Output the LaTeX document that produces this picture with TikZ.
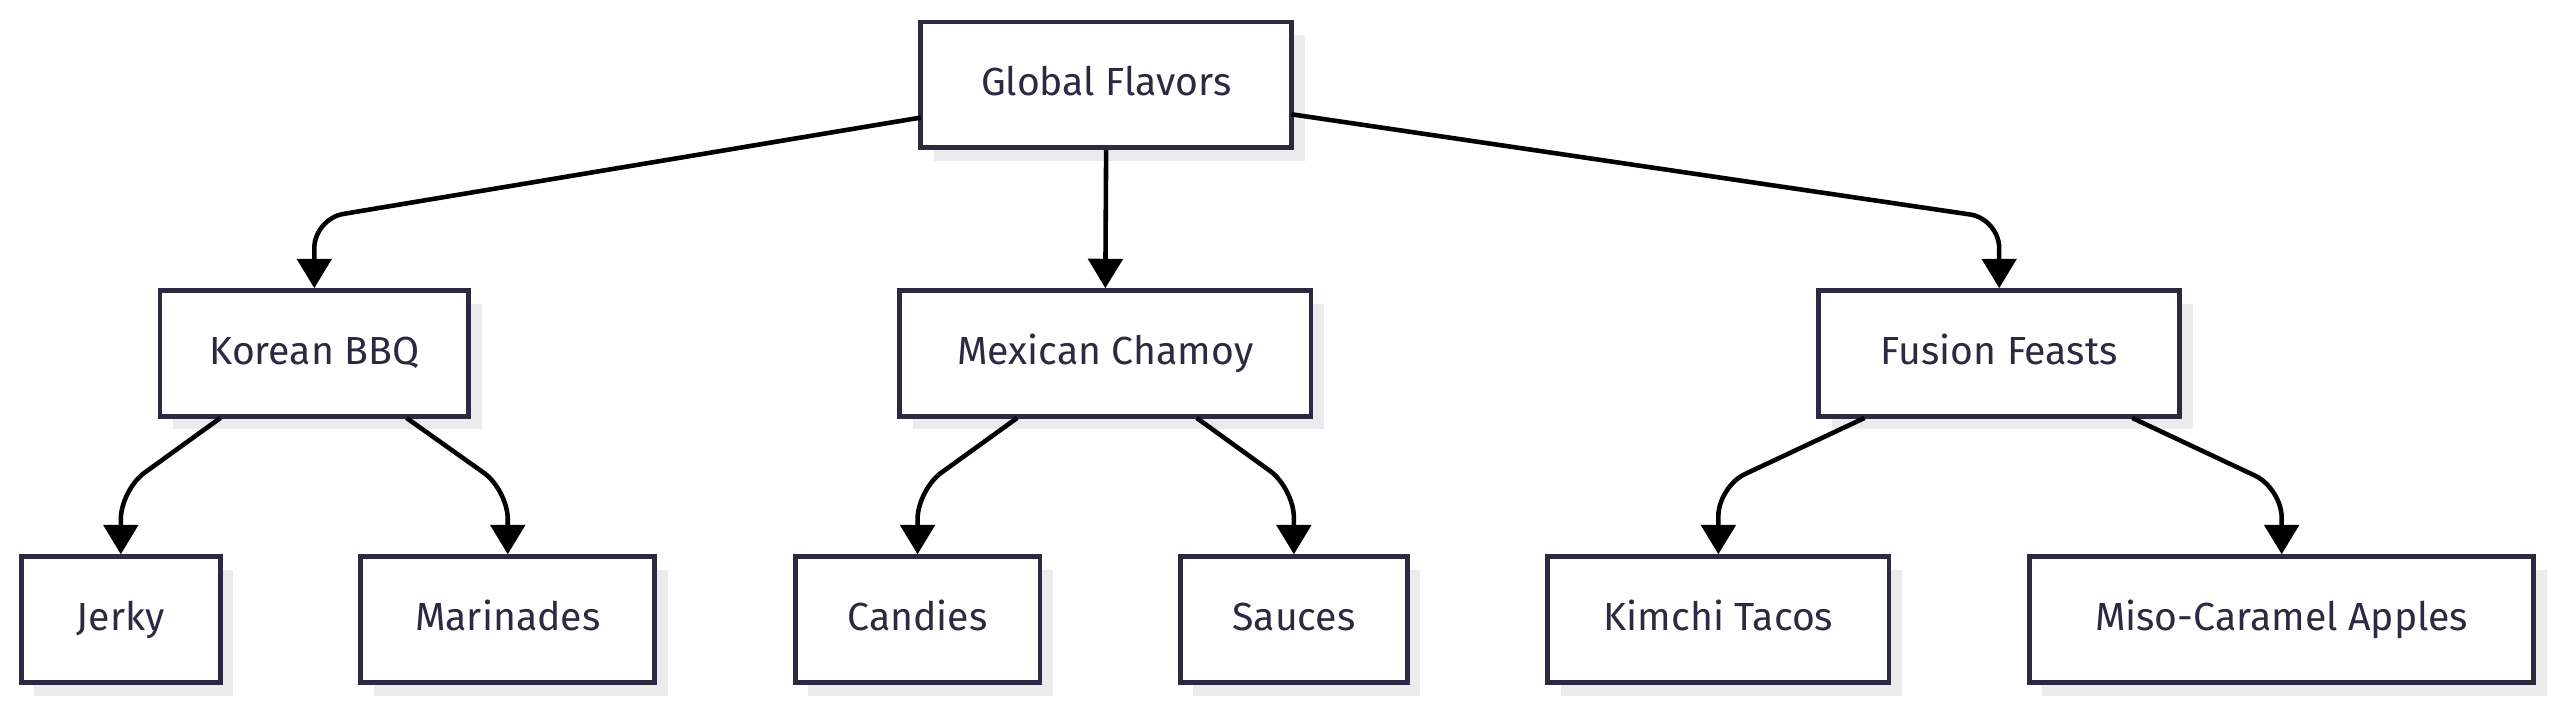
\documentclass[tikz,border=0pt]{standalone}
\usepackage{fontspec}
\setmainfont{Fira Sans}
\usetikzlibrary{arrows.meta, positioning}
\definecolor{ink}{HTML}{2B2A40}
\definecolor{shade}{HTML}{EBEBEE}
\tikzset{
  box/.style={draw=ink, line width=1.5pt, fill=white, text=ink, minimum height=38.5pt,
    font=\fontsize{12}{14}\selectfont, inner sep=0pt, text height=9pt, text depth=2.5pt,
    preaction={fill=shade, draw=none, transform canvas={shift={(4pt,-4pt)}}}},
  link/.style={line width=1.4pt, rounded corners=9pt, -{Triangle[length=9pt, width=10.5pt]}}
}
\begin{document}
\begin{tikzpicture}[x=0.5pt, y=-0.5pt]
\useasboundingbox (0,0) rectangle (1568,434);
%Nodes:
\node (G) [box, minimum width=113.5pt] at (677.5,52) {Global Flavors};
\node (K) [box, minimum width=94.5pt] at (192.5,216.5) {Korean BBQ};
\node (M) [box, minimum width=126pt] at (677,216.5) {Mexican Chamoy};
\node (F) [box, minimum width=110.5pt] at (1224.5,216.5) {Fusion Feasts};
\node (J) [box, minimum width=61pt] at (74,379.5) {Jerky};
\node (Ma) [box, minimum width=90pt] at (311,379.5) {Marinades};
\node (C) [box, minimum width=75pt] at (562,379.5) {Candies};
\node (S) [box, minimum width=69.5pt] at (792.5,379.5) {Sauces};
\node (KT) [box, minimum width=104.5pt] at (1052.5,379.5) {Kimchi Tacos};
\node (MA) [box, minimum width=154.5pt] at (1397.5,379.5) {Miso-Caramel Apples};
%Links:
\draw [link] (564,72) -- (192.5,134) -- (K.north);
\draw [link] (G.south) -- (M.north);
\draw [link] (791,70) -- (1224.5,134) -- (F.north);
\draw [link] (135,256) -- (74,300) -- (J.north);
\draw [link] (249,256) -- (311,300) -- (Ma.north);
\draw [link] (623,256) -- (562,300) -- (C.north);
\draw [link] (733,256) -- (792.5,299) -- (S.north);
\draw [link] (1142,256) -- (1052.5,298) -- (KT.north);
\draw [link] (1306,256) -- (1397.5,299) -- (MA.north);
\end{tikzpicture}
\end{document}
